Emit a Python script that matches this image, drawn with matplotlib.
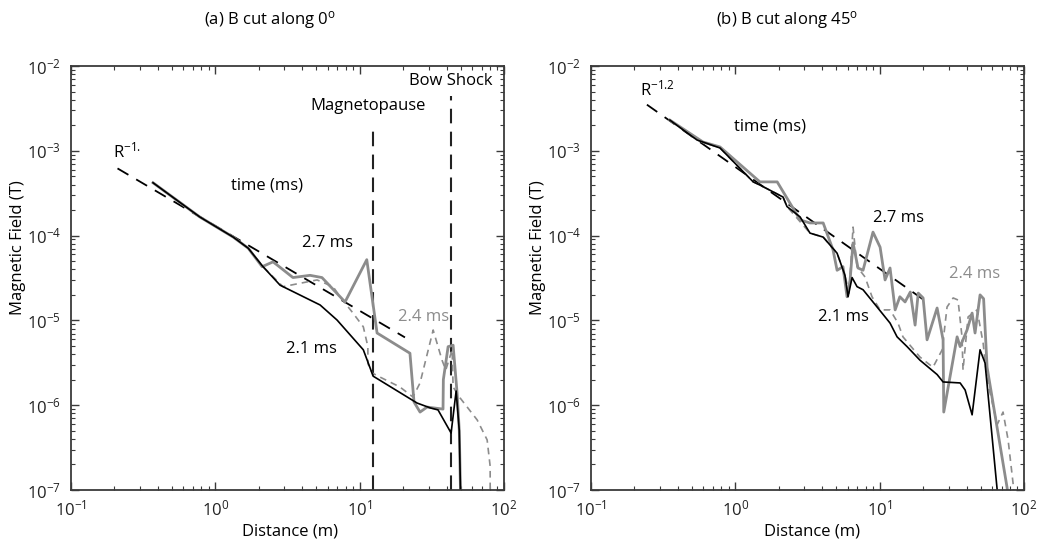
import matplotlib
matplotlib.use('Agg')
import matplotlib.pyplot as plt
from matplotlib.ticker import LogLocator, NullFormatter

plt.rcParams['font.family'] = ['Open Sans', 'DejaVu Sans']
plt.rcParams['mathtext.default'] = 'regular'
plt.rcParams['axes.unicode_minus'] = False

# ---- (a) cut along 0 deg ----
a_d_21 = [0.37, 0.78, 1.33, 1.69, 2.14, 2.81, 5.32, 6.97, 10.6, 12.4, 25.0, 30.8, 34.9, 43.0, 46.6, 49.0, 51.3]
a_B_21 = [4.2e-4, 1.66e-4, 9.6e-5, 7.1e-5, 4.3e-5, 2.6e-5, 1.52e-5, 1.01e-5, 4.5e-6, 2.2e-6, 1.06e-6,
          9.3e-7, 8.8e-7, 4.7e-7, 1.47e-6, 5e-7, 1e-8]

a_d_27 = [0.37, 0.78, 1.33, 1.69, 2.11, 2.51, 2.68, 3.45, 4.53, 5.48, 7.92, 11.2, 13.2, 22.3, 23.8, 26.2,
          29.3, 37.8, 38.0, 41.0, 44.4, 47.3, 49.0, 51.3]
a_B_27 = [4.2e-4, 1.66e-4, 9.6e-5, 7.1e-5, 4.3e-5, 4.9e-5, 4.5e-5, 3.2e-5, 3.4e-5, 3.2e-5, 1.65e-5, 5.2e-5,
          7.1e-6, 4.1e-6, 1.09e-6, 8.3e-7, 9.5e-7, 9.0e-7, 2.0e-6, 4.9e-6, 5.1e-6, 1.4e-6, 5e-7, 1e-8]

a_d_24 = [0.37, 0.78, 1.33, 1.69, 2.14, 2.94, 5.07, 6.54, 7.31, 8.99, 10.6, 11.4, 11.4, 12.2, 13.8, 19.0,
          23.4, 26.2, 32.3, 37.2, 39.5, 43.7, 44.4, 49.6, 65.2, 76.4, 80.2, 80.2]
a_B_24 = [4.2e-4, 1.66e-4, 9.6e-5, 7.1e-5, 4.3e-5, 2.5e-5, 3.0e-5, 2.5e-5, 1.9e-5, 1.22e-5, 8.4e-6, 4.9e-6,
          3.1e-6, 2.4e-6, 2.15e-6, 1.64e-6, 1.25e-6, 1.83e-6, 7.7e-6, 3.4e-6, 2.6e-6, 4.5e-6, 1.64e-6,
          1.22e-6, 6.7e-7, 3.9e-7, 1.9e-7, 5e-8]

a_ref_d = [0.21, 20.6]
a_ref_B = [6.2e-4, 6.3e-6]
a_magnetopause = 12.4
a_bowshock = 43.0

# ---- (b) cut along 45 deg ----
b_d_21 = [0.352, 0.543, 0.783, 1.33, 1.48, 2.14, 2.28, 2.81, 3.29, 4.06, 5.07, 5.75, 6.04, 6.44, 6.97,
          7.67, 9.59, 11.8, 13.2, 15.5, 19.0, 25.0, 27.5, 36.1, 39.1, 43.7, 49.6, 53.7, 65.2, 67.0]
b_B_21 = [2.3e-3, 1.34e-3, 1.08e-3, 4.3e-4, 3.95e-4, 2.85e-4, 2.2e-4, 1.66e-4, 1.07e-4, 9.6e-5, 6.2e-5,
          3.4e-5, 1.9e-5, 3.2e-5, 2.5e-5, 2.3e-5, 1.44e-5, 9.3e-6, 6.4e-6, 4.9e-6, 3.4e-6, 2.3e-6,
          1.88e-6, 1.83e-6, 1.51e-6, 7.7e-7, 4.5e-6, 3.15e-6, 1e-7, 3e-8]

b_d_27 = [0.352, 0.597, 0.783, 1.48, 1.95, 2.81, 3.29, 4.06, 4.75, 5.07, 5.57, 5.94, 6.24, 6.54, 7.08,
          7.67, 8.99, 10.07, 10.9, 11.8, 12.8, 13.8, 15.0, 16.3, 17.6, 18.5, 20.0, 21.3, 25.0, 27.5,
          27.8, 34.4, 36.1, 40.3, 43.7, 45.8, 49.6, 52.5, 55.5, 76.4, 80.0]
b_B_27 = [2.3e-3, 1.27e-3, 1.11e-3, 4.3e-4, 4.3e-4, 1.53e-4, 1.41e-4, 1.41e-4, 6.8e-5, 3.9e-5, 4.3e-5,
          1.9e-5, 3.0e-5, 8.2e-5, 4.15e-5, 3.9e-5, 1.1e-4, 7.3e-5, 3.0e-5, 4.15e-5, 1.33e-5, 1.9e-5,
          1.65e-5, 2.16e-5, 8.8e-6, 2.1e-5, 1.84e-5, 5.9e-6, 1.4e-5, 5.9e-6, 8.3e-7, 6.4e-6, 4.9e-6,
          7.7e-6, 1.22e-5, 7.1e-6, 2.0e-5, 1.8e-5, 2.8e-6, 1.06e-7, 5e-8]

b_d_24 = [0.352, 0.543, 0.783, 1.33, 1.48, 2.14, 2.28, 3.29, 4.06, 5.07, 5.75, 6.14, 6.54, 6.97, 7.92,
          8.85, 10.07, 11.8, 13.4, 14.5, 19.0, 23.4, 27.1, 29.3, 32.3, 34.9, 37.2, 37.8, 41.0, 47.3,
          52.1, 55.5, 65.2, 71.6, 77.6, 84.0, 87.0]
b_B_24 = [2.3e-3, 1.34e-3, 1.08e-3, 4.3e-4, 3.95e-4, 2.85e-4, 2.2e-4, 1.07e-4, 9.6e-5, 6.2e-5, 3.4e-5,
          2.1e-5, 1.26e-4, 4.3e-5, 3.25e-5, 1.9e-5, 1.33e-5, 1.33e-5, 9.3e-6, 6.4e-6, 3.7e-6, 2.8e-6,
          4.5e-6, 1.44e-5, 1.84e-5, 1.74e-5, 6.4e-6, 2.6e-6, 1.1e-5, 1.33e-5, 5.4e-6, 2.0e-6, 5.9e-7,
          8.3e-7, 3.9e-7, 1.2e-7, 5e-8]

b_ref_d = [0.244, 21.3]
b_ref_B = [3.5e-3, 1.64e-5]

GRAY = '#8c8c8c'
SPINE = '#3a3a3a'


def style_axes(ax):
    ax.set_xscale('log')
    ax.set_yscale('log')
    ax.set_xlim(0.1, 100)
    ax.set_ylim(1e-7, 1e-2)
    ax.xaxis.set_major_locator(LogLocator(base=10, numticks=10))
    ax.yaxis.set_major_locator(LogLocator(base=10, numticks=10))
    ax.xaxis.set_minor_locator(LogLocator(base=10, subs=range(2, 10), numticks=20))
    ax.yaxis.set_minor_locator(LogLocator(base=10, subs=range(2, 10), numticks=20))
    ax.xaxis.set_minor_formatter(NullFormatter())
    ax.yaxis.set_minor_formatter(NullFormatter())
    ax.tick_params(which='both', direction='in', top=True, right=True, colors=SPINE,
                   labelcolor='#222222', labelsize=12)
    ax.tick_params(which='major', length=6, width=1.0, pad=7)
    ax.tick_params(which='minor', length=3, width=0.8)
    for s in ax.spines.values():
        s.set_color(SPINE)
        s.set_linewidth(1.3)


fig = plt.figure(figsize=(10.41, 5.41), dpi=100)
ax1 = fig.add_axes([71 / 1041, 51 / 541, 433 / 1041, 424 / 541])
ax2 = fig.add_axes([591 / 1041, 51 / 541, 433 / 1041, 424 / 541])

for ax in (ax1, ax2):
    style_axes(ax)

# panel (a)
ax1.plot(a_ref_d, a_ref_B, color='black', lw=1.3, dashes=(7, 5))
ax1.vlines(a_magnetopause, 1e-7, 2.0e-3, color='#222222', lw=1.5, linestyles=(0, (7, 4)))
ax1.vlines(a_bowshock, 1e-7, 4.4e-3, color='#222222', lw=1.5, linestyles=(0, (7, 4)))
ax1.plot(a_d_24, a_B_24, color=GRAY, lw=1.2, dashes=(4, 3))
ax1.plot(a_d_27, a_B_27, color=GRAY, lw=2.0)
ax1.plot(a_d_21, a_B_21, color='black', lw=1.2)

ax1.text(0.195, 9.7e-4, 'R$^{-1.}$', fontsize=12, ha='left', va='center')
ax1.text(2.28, 3.95e-4, 'time (ms)', fontsize=12, ha='center', va='center')
ax1.text(5.94, 8.2e-5, '2.7 ms', fontsize=12, ha='center', va='center')
ax1.text(4.6, 4.6e-6, '2.1 ms', fontsize=12, ha='center', va='center')
ax1.text(27.5, 1.1e-5, '2.4 ms', fontsize=12, ha='center', va='center', color=GRAY)
ax1.text(11.4, 3.4e-3, 'Magnetopause', fontsize=12, ha='center', va='center')
ax1.text(43.0, 6.6e-3, 'Bow Shock', fontsize=12, ha='center', va='center')

# panel (b)
ax2.plot(b_ref_d, b_ref_B, color='black', lw=1.3, dashes=(7, 5))
ax2.plot(b_d_24, b_B_24, color=GRAY, lw=1.2, dashes=(4, 3))
ax2.plot(b_d_27, b_B_27, color=GRAY, lw=2.0)
ax2.plot(b_d_21, b_B_21, color='black', lw=1.2)

ax2.text(0.219, 5.35e-3, 'R$^{-1.2}$', fontsize=12, ha='left', va='center')
ax2.text(1.74, 1.91e-3, 'time (ms)', fontsize=12, ha='center', va='center')
ax2.text(13.6, 1.61e-4, '2.7 ms', fontsize=12, ha='center', va='center')
ax2.text(45.1, 3.52e-5, '2.4 ms', fontsize=12, ha='center', va='center', color=GRAY)
ax2.text(5.57, 1.1e-5, '2.1 ms', fontsize=12, ha='center', va='center')

# titles and axis labels
fig.text(270 / 1041, 1 - 20 / 541, '(a) B cut along 0$^{o}$', fontsize=12, ha='center', va='center')
fig.text(787 / 1041, 1 - 20 / 541, '(b) B cut along 45$^{o}$', fontsize=12, ha='center', va='center')
fig.text(18 / 1041, 1 - 248 / 541, 'Magnetic Field (T)', fontsize=12, rotation=90, ha='center', va='center')
fig.text(538 / 1041, 1 - 248 / 541, 'Magnetic Field (T)', fontsize=12, rotation=90, ha='center', va='center')
fig.text(290 / 1041, 1 - 531 / 541, 'Distance (m)', fontsize=12, ha='center', va='center')
fig.text(812 / 1041, 1 - 531 / 541, 'Distance (m)', fontsize=12, ha='center', va='center')

fig.savefig('out.png', dpi=100)
